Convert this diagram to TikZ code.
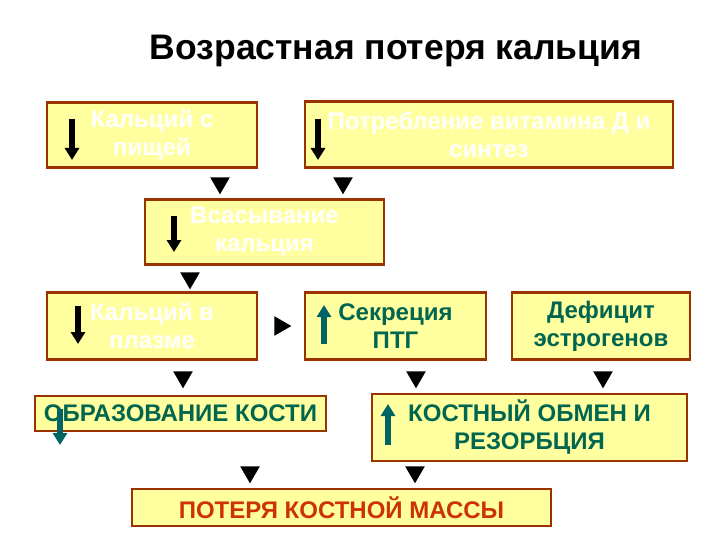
\documentclass[tikz,border=0pt]{standalone}
\usepackage{fontspec}
\setmainfont{Liberation Sans}
\usetikzlibrary{arrows.meta,shapes.geometric}

\definecolor{boxfill}{RGB}{255,255,160}
\definecolor{boxline}{RGB}{153,51,0}
\definecolor{tealtext}{RGB}{0,102,80}
\definecolor{tealarrow}{RGB}{0,100,100}
\definecolor{redtext}{RGB}{204,51,0}

\tikzset{
  box/.style={draw=boxline, fill=boxfill, line width=2.6pt, inner sep=0pt,
    align=center, font=\fontsize{24}{28}\selectfont\bfseries},
  pointer/.style={isosceles triangle, isosceles triangle apex angle=60,
    fill=black, inner sep=0pt, minimum width=19pt, minimum height=17pt},
  down/.style={line width=5.5pt, -{Triangle[width=14pt,length=12pt]}},
}

\begin{document}
\begin{tikzpicture}[x=1pt,y=-1pt]
  \useasboundingbox[fill=white] (0,0) rectangle (720,540);

  % title
  \node[font=\fontsize{35.5}{35.5}\selectfont\bfseries] (title) at (396,51) {Возрастная потеря кальция};

  % boxes
  \node[box, text=white, minimum width=210pt, minimum height=65pt] (food) at (152,135) {Кальций с\\пищей};
  \node[box, text=white, minimum width=368pt, minimum height=66pt] (vitd) at (489,134.5) {Потребление витамина Д и\\синтез};
  \node[box, text=white, minimum width=239pt, minimum height=65pt] (absorb) at (264.5,232) {Всасывание\\кальция};
  \node[box, text=white, minimum width=210pt, minimum height=67pt] (plasma) at (152,326) {Кальций в\\плазме};
  \node[box, text=tealtext, minimum width=181pt, minimum height=67pt] (ptg) at (395.5,326) {Секреция\\ПТГ};
  \node[box, text=tealtext, minimum width=178pt, minimum height=67pt] (estro) at (601,326) {Дефицит\\эстрогенов};
  \node[box, text=tealtext, minimum width=291pt, minimum height=35pt] (bone) at (180.5,413.5) {ОБРАЗОВАНИЕ КОСТИ};
  \node[box, text=tealtext, minimum width=315pt, minimum height=67pt] (resorb) at (529.5,427.5) {КОСТНЫЙ ОБМЕН И\\РЕЗОРБЦИЯ};
  \node[box, text=redtext, minimum width=419pt, minimum height=37pt] (loss) at (341.5,507.5) {ПОТЕРЯ КОСТНОЙ МАССЫ};

  % arrows inside the boxes
  \draw[down] (72,119) -- (72,160);
  \draw[down] (318,119) -- (318,160);
  \draw[down] (174,216) -- (174,252);
  \draw[down] (78,306) -- (78,344);
  \draw[down, tealarrow] (324,344) -- (324,305);
  \draw[down, tealarrow] (60,409) -- (60,445);
  \draw[down, tealarrow] (388,445) -- (388,404);

  % triangles between the boxes
  \node[pointer, rotate=-90] (p1) at (220,183) {};
  \node[pointer, rotate=-90] (p2) at (343,183) {};
  \node[pointer, rotate=-90] (p3) at (190,278) {};
  \node[pointer] (p4) at (280,326) {};
  \node[pointer, rotate=-90] (p5) at (183,377) {};
  \node[pointer, rotate=-90] (p6) at (416,377) {};
  \node[pointer, rotate=-90] (p7) at (603,377) {};
  \node[pointer, rotate=-90] (p8) at (250,472) {};
  \node[pointer, rotate=-90] (p9) at (415,472) {};
\end{tikzpicture}
\end{document}
